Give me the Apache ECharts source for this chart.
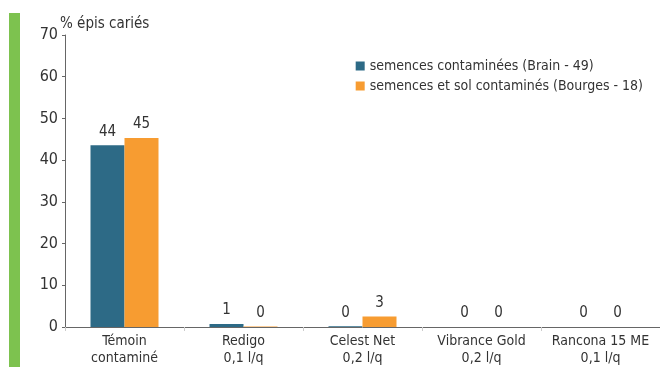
<!doctype html>
<html lang="fr">
<head>
  <meta charset="utf-8">
  <title>% épis cariés</title>
  <script src="https://cdn.jsdelivr.net/npm/echarts@6/dist/echarts.min.js"></script>
  <style>
    html, body { margin: 0; padding: 0; background: #fff; }
    #chart { width: 660px; height: 367px; }
  </style>
</head>
<body>
  <div id="chart"></div>
  <script>
    // catégories (axe x)
    const categories = [
      "Témoin\ncontaminé",
      "Redigo\n0,1 l/q",
      "Celest Net\n0,2 l/q",
      "Vibrance Gold\n0,2 l/q",
      "Rancona 15 ME\n0,1 l/q"
    ];
    // valeurs
    const semences = [43.6, 0.7, 0.2, 0, 0];
    const semencesSol = [45.3, 0.1, 2.5, 0, 0];
    const seriesNames = [
      "semences contaminées (Brain - 49)",
      "semences et sol contaminés (Bourges - 18)"
    ];
    const font = "'DejaVu Sans Condensed', 'Liberation Sans', sans-serif";

    const chart = echarts.init(document.getElementById("chart"));
    const label = {
      show: true,
      position: "top",
      distance: 6,
      color: "#333",
      fontSize: 15,
      fontFamily: font,
      formatter: p => Math.round(p.value)
    };
    chart.setOption({
      animation: false,
      textStyle: { fontFamily: font },
      graphic: [{
        type: "rect",
        shape: { x: 9, y: 13, width: 11, height: 354 },
        style: { fill: "#7dc24f" }
      }],
      grid: { left: 65, right: 0, top: 35, bottom: 40 },
      legend: {
        orient: "vertical",
        right: 12,
        top: 54,
        itemWidth: 9,
        itemHeight: 9,
        itemGap: 6,
        icon: "rect",
        textStyle: { color: "#333", fontSize: 14, fontFamily: font },
        data: seriesNames
      },
      xAxis: {
        type: "category",
        data: categories,
        axisLine: { lineStyle: { color: "#666" } },
        axisTick: { show: true, length: 4, lineStyle: { color: "#ccc" } },
        axisLabel: { interval: 0, color: "#333", fontSize: 14, fontFamily: font, lineHeight: 17, margin: 6 }
      },
      yAxis: {
        type: "value",
        min: 0,
        max: 70,
        interval: 10,
        name: "% épis cariés",
        nameGap: 3,
        nameMoveOverlap: false,
        nameTextStyle: { color: "#333", fontSize: 15, fontFamily: font, align: "left", verticalAlign: "bottom", padding: [0, 0, 0, -5] },
        axisLine: { show: true, lineStyle: { color: "#666" } },
        axisTick: { show: true, length: 3, lineStyle: { color: "#666" } },
        axisLabel: { color: "#333", fontSize: 16, fontFamily: font, margin: 7 },
        splitLine: { show: false }
      },
      series: [
        {
          name: seriesNames[0],
          type: "bar",
          data: semences,
          barWidth: 34,
          barGap: "0%",
          itemStyle: { color: "#2d6a86" },
          label: label
        },
        {
          name: seriesNames[1],
          type: "bar",
          data: semencesSol,
          barWidth: 34,
          itemStyle: { color: "#f79c31" },
          label: label
        }
      ]
    });
  </script>
</body>
</html>
